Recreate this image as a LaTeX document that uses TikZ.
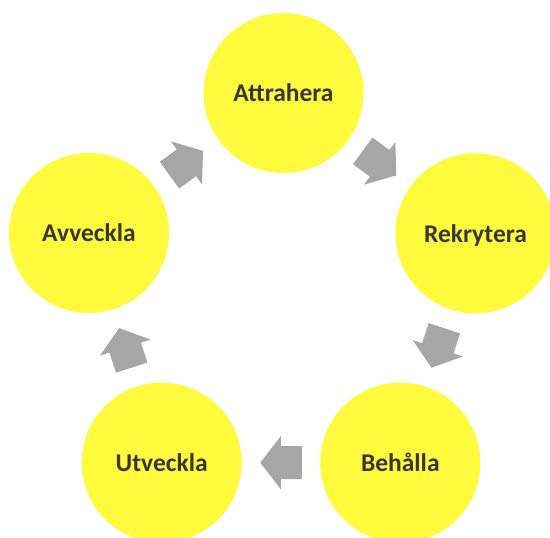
\documentclass[tikz,border=0pt]{standalone}
\usepackage{fontspec}
\setmainfont{Carlito}
\usetikzlibrary{calc}
\definecolor{stagefill}{RGB}{255,250,60}
\definecolor{arrowgray}{RGB}{166,166,166}
\definecolor{stagetextcol}{RGB}{55,55,55}
\newcommand\cycarrow[2]{%
  \fill[cyclearrow] let \p1=(#1.center), \p2=(#2.center),
    \p3=($(\p1)!0.5!(\p2)$), \n1={atan2(\y2-\y1,\x2-\x1)} in
    ($(\p3)+(\n1+180:20.75pt)+(\n1+90:16.5pt)$) --
    ($(\p3)+(\n1:0.25pt)+(\n1+90:16.5pt)$) --
    ($(\p3)+(\n1:0.25pt)+(\n1+90:26.5pt)$) --
    ($(\p3)+(\n1:20.75pt)$) --
    ($(\p3)+(\n1:0.25pt)+(\n1-90:26.5pt)$) --
    ($(\p3)+(\n1:0.25pt)+(\n1-90:16.5pt)$) --
    ($(\p3)+(\n1+180:20.75pt)+(\n1-90:16.5pt)$) -- cycle;}
\begin{document}
\begin{tikzpicture}[x=1pt,y=-1pt,
  stage/.style={circle, fill=stagefill, draw=none, minimum size=160pt,
    inner sep=0pt, text=stagetextcol, text height=17.4pt, text depth=0pt,
    font=\bfseries\fontsize{25.5}{30}\selectfont},
  cyclearrow/.style={fill=arrowgray, draw=none}]
\clip (0,0) rectangle (550,538);
\fill[white] (0,0) rectangle (550,538);
\node[stage] (att) at (283.5,93) {Attrahera};
\node[stage] (rek) at (475.5,233.3) {Rekrytera};
\node[stage] (beh) at (400.3,462.7) {Behålla};
\node[stage] (utv) at (161.7,462.7) {Utveckla};
\node[stage] (avv) at (89,233) {Avveckla};
\cycarrow{att}{rek}
\cycarrow{rek}{beh}
\cycarrow{beh}{utv}
\cycarrow{utv}{avv}
\cycarrow{avv}{att}
\end{tikzpicture}
\end{document}
